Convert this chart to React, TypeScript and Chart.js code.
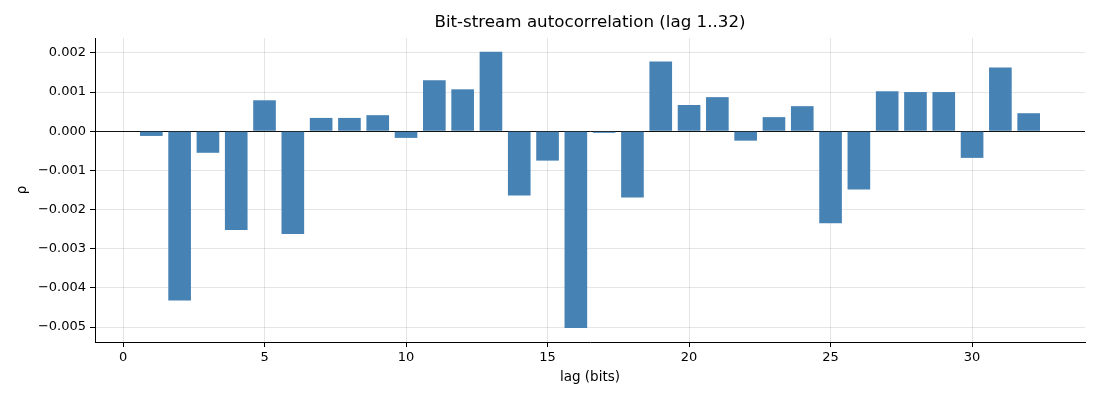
import { useEffect, useRef } from 'react'
import { Chart, registerables } from 'chart.js'

Chart.register(...registerables)

const TITLE = 'Bit-stream autocorrelation (lag 1..32)'
const X_LABEL = 'lag (bits)'
const Y_LABEL = 'ρ'

const lags = [
  1, 2, 3, 4, 5, 6, 7, 8, 9, 10, 11, 12, 13, 14, 15, 16,
  17, 18, 19, 20, 21, 22, 23, 24, 25, 26, 27, 28, 29, 30, 31, 32,
]
const rho = [
  -0.00012, -0.00432, -0.00055, -0.00252, 0.00079, -0.00262, 0.00034, 0.00034,
  0.00041, -0.00017, 0.0013, 0.00107, 0.00203, -0.00164, -0.00075, -0.00502,
  -0.00004, -0.00169, 0.00178, 0.00067, 0.00087, -0.00024, 0.00036, 0.00064,
  -0.00235, -0.00149, 0.00102, 0.001, 0.001, -0.00068, 0.00163, 0.00046,
]
const xTicks = [0, 5, 10, 15, 20, 25, 30]
const yTicks = [-0.005, -0.004, -0.003, -0.002, -0.001, 0, 0.001, 0.002]

const FONT = 'DejaVu Sans'
const GRID = 'rgba(176,176,176,0.33)'

// title centred over the plot area, like matplotlib
const titlePlugin = {
  id: 'axTitle',
  afterDraw(chart: Chart) {
    const { ctx, chartArea } = chart
    ctx.save()
    ctx.font = `16.7px "${FONT}"`
    ctx.fillStyle = '#000'
    ctx.textAlign = 'center'
    ctx.textBaseline = 'middle'
    ctx.fillText(TITLE, (chartArea.left + chartArea.right) / 2, 23)
    ctx.restore()
  },
}

export default function App() {
  const canvasRef = useRef<HTMLCanvasElement>(null)

  useEffect(() => {
    if (!canvasRef.current) return
    const ctx = canvasRef.current.getContext('2d')
    if (!ctx) return

    const chart = new Chart(ctx, {
      type: 'bar',
      data: {
        datasets: [
          {
            data: lags.map((l, i) => ({ x: l, y: rho[i] })),
            backgroundColor: '#4682b4',
            categoryPercentage: 1,
            barPercentage: 0.8,
          },
        ],
      },
      options: {
        animation: false,
        responsive: true,
        maintainAspectRatio: false,
        layout: { padding: { top: 38, right: 15, left: 0, bottom: 0 } },
        plugins: {
          legend: { display: false },
          tooltip: { enabled: false },
        },
        scales: {
          x: {
            type: 'linear',
            min: -0.99,
            max: 33.99,
            offset: false,
            z: 1,
            afterBuildTicks: (s: any) => {
              s.ticks = xTicks.map(v => ({ value: v }))
            },
            afterFit: (s: any) => {
              s.height = 58
            },
            grid: {
              offset: false,
              color: GRID,
              lineWidth: 1,
              tickColor: '#000',
              tickLength: 5,
            },
            border: { color: '#000', width: 1 },
            ticks: {
              color: '#000',
              padding: 3,
              font: { family: FONT, size: 13 },
              maxRotation: 0,
              callback: (v: any) => String(v),
            },
            title: {
              display: true,
              text: X_LABEL,
              color: '#000',
              font: { family: FONT, size: 13.5 },
              padding: { top: 4, bottom: 14 },
            },
          },
          y: {
            type: 'linear',
            min: -0.00538,
            max: 0.00238,
            z: 1,
            afterBuildTicks: (s: any) => {
              s.ticks = yTicks.map(v => ({ value: v }))
            },
            afterFit: (s: any) => {
              s.width = 95
            },
            grid: {
              color: (c: any) => (Math.abs(c.tick?.value ?? 1) < 1e-9 ? '#111' : GRID),
              lineWidth: 1,
              tickColor: '#000',
              tickLength: 5,
            },
            border: { color: '#000', width: 1 },
            ticks: {
              color: '#000',
              padding: 4,
              font: { family: FONT, size: 13 },
              callback: (v: any) => {
                const n = Math.abs(v) < 1e-12 ? 0 : Number(v)
                return n.toFixed(3).replace('-', '\u2212')
              },
            },
            title: {
              display: true,
              text: Y_LABEL,
              color: '#000',
              font: { family: FONT, size: 13.5 },
              padding: { top: 14, bottom: 0 },
            },
          },
        },
      },
      plugins: [titlePlugin],
    })

    return () => chart.destroy()
  }, [])

  return (
    <div style={{ position: 'fixed', left: 0, top: 0, width: 1100, height: 400, background: '#fff' }}>
      <canvas ref={canvasRef} />
    </div>
  )
}
